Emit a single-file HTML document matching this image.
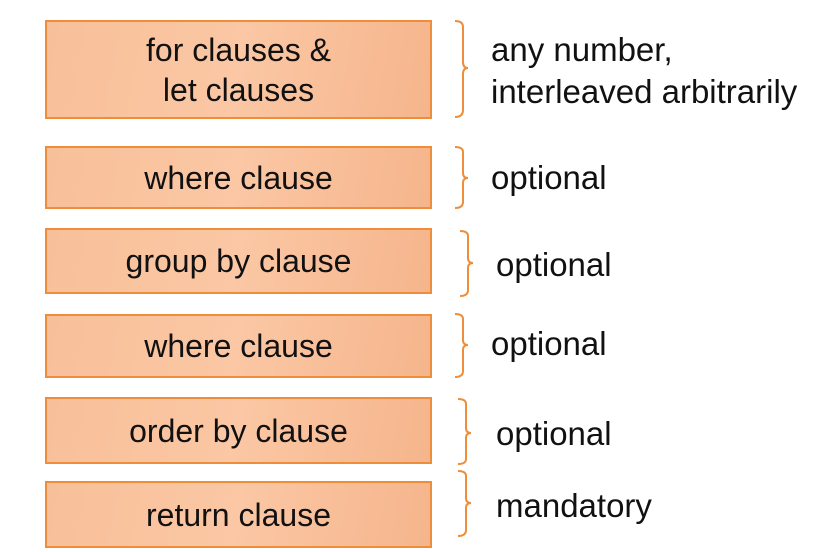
<!DOCTYPE html>
<html><head><meta charset="utf-8"><style>
html,body{margin:0;padding:0;background:#fff;width:819px;height:552px;overflow:hidden;position:relative;font-family:"Liberation Sans",sans-serif;}
.b{position:absolute;left:45px;width:383px;border:2px solid #ee8e3a;background:linear-gradient(100deg,#f8c09a 0%,#fbc7a4 50%,#f5b58c 100%);display:flex;align-items:center;justify-content:center;text-align:center;font-size:32px;line-height:40px;color:#111;}
.t{position:absolute;font-size:33px;line-height:40px;color:#111;white-space:nowrap;}
svg{position:absolute;left:0;top:0}
</style></head><body>
<div class="b" style="top:20px;height:95px">for clauses &amp;<br>let clauses</div>
<div class="b" style="top:146px;height:59px">where clause</div>
<div class="b" style="top:228px;height:62px">group by clause</div>
<div class="b" style="top:314px;height:60px">where clause</div>
<div class="b" style="top:397px;height:63px">order by clause</div>
<div class="b" style="top:481px;height:63px">return clause</div>
<svg width="819" height="552" fill="none" stroke="#ee8e3a" stroke-width="2">
<path d="M455 21 Q463 21 463 27 L463 62 Q463 68 468 68 Q463 68 463 74 L463 110 Q463 117 455 117"/>
<path d="M455 147 Q463 147 463 152 L463 173 Q463 178 468 178 Q463 178 463 183 L463 202 Q463 208 455 208"/>
<path d="M460 231 Q468 231 468 236 L468 258 Q468 263 473 263 Q468 263 468 268 L468 290 Q468 296 460 296"/>
<path d="M455 314 Q463 314 463 319 L463 340 Q463 345 468 345 Q463 345 463 350 L463 371 Q463 377 455 377"/>
<path d="M458 399 Q466 399 466 404 L466 428 Q466 433 471 433 Q466 433 466 438 L466 459 Q466 464 458 464"/>
<path d="M458 471 Q466 471 466 476 L466 498 Q466 503 471 503 Q466 503 466 508 L466 530 Q466 536 458 536"/>
</svg>
<div class="t" style="left:491px;top:30px">any number,</div>
<div class="t" style="left:491px;top:72px">interleaved arbitrarily</div>
<div class="t" style="left:491px;top:158px">optional</div>
<div class="t" style="left:496px;top:245px">optional</div>
<div class="t" style="left:491px;top:324px">optional</div>
<div class="t" style="left:496px;top:414px">optional</div>
<div class="t" style="left:496px;top:486px">mandatory</div>
</body></html>
